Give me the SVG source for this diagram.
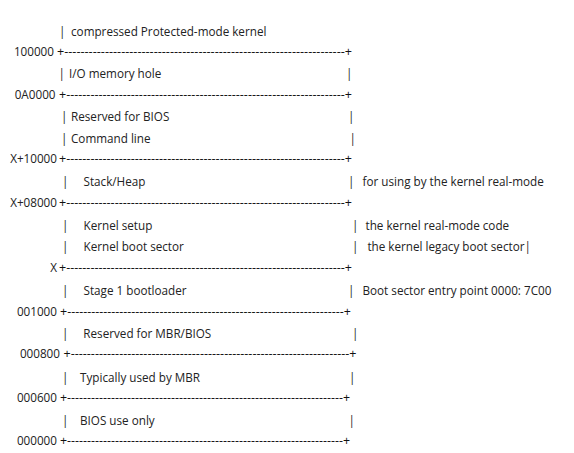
<svg xmlns="http://www.w3.org/2000/svg" width="574" height="453" viewBox="0 0 574 453">
<style>
text{font-family:"Open Sans","Noto Sans","DejaVu Sans",sans-serif;font-size:11.7px;fill:#222}
.a{text-anchor:end}
#connectors text{fill:#111}
</style>
<rect width="574" height="453" fill="#fff"/>
<g id="connectors">
<text x="57" y="56" textLength="295" lengthAdjust="spacingAndGlyphs">+---------------------------------------------------------------------+</text>
<text x="59" y="99" textLength="293" lengthAdjust="spacingAndGlyphs">+---------------------------------------------------------------------+</text>
<text x="59" y="163" textLength="293" lengthAdjust="spacingAndGlyphs">+---------------------------------------------------------------------+</text>
<text x="59" y="207" textLength="293" lengthAdjust="spacingAndGlyphs">+---------------------------------------------------------------------+</text>
<text x="59" y="272" textLength="293" lengthAdjust="spacingAndGlyphs">+---------------------------------------------------------------------+</text>
<text x="60" y="316" textLength="291" lengthAdjust="spacingAndGlyphs">+---------------------------------------------------------------------+</text>
<text x="63.5" y="358" textLength="293" lengthAdjust="spacingAndGlyphs">+---------------------------------------------------------------------+</text>
<text x="60" y="402" textLength="290" lengthAdjust="spacingAndGlyphs">+---------------------------------------------------------------------+</text>
<text x="60" y="445" textLength="290" lengthAdjust="spacingAndGlyphs">+---------------------------------------------------------------------+</text>
</g>
<g id="addresses">
<text class="a" x="54" y="56">100000</text>
<text class="a" x="55.5" y="99">0A0000</text>
<text class="a" x="57" y="163">X+10000</text>
<text class="a" x="57" y="207">X+08000</text>
<text class="a" x="57" y="272">X</text>
<text class="a" x="57" y="316">001000</text>
<text class="a" x="60" y="358">000800</text>
<text class="a" x="57" y="402">000600</text>
<text class="a" x="57" y="445">000000</text>
</g>
<g id="protected-kernel">
<text x="59" y="35.5">|</text>
<text x="71" y="35.5">compressed Protected-mode kernel</text>
</g>
<g id="io-hole">
<text x="58.5" y="78">|</text>
<text x="69" y="78">I/O memory hole</text>
<text x="346" y="78">|</text>
</g>
<g id="reserved-bios">
<text x="61" y="121">|</text>
<text x="71" y="121">Reserved for BIOS</text>
<text x="348" y="121">|</text>
</g>
<g id="command-line">
<text x="61" y="142.5">|</text>
<text x="71" y="142.5">Command line</text>
<text x="349.5" y="142.5">|</text>
</g>
<g id="stack-heap">
<text x="62" y="185.5">|</text>
<text x="83.5" y="185.5">Stack/Heap</text>
<text x="348" y="185.5">|</text>
<text x="362.5" y="185.5">for using by the kernel real-mode</text>
</g>
<g id="kernel-setup">
<text x="62" y="229.5">|</text>
<text x="83.5" y="229.5">Kernel setup</text>
<text x="352" y="229.5">|</text>
<text x="365.5" y="229.5">the kernel real-mode code</text>
</g>
<g id="kernel-boot-sector">
<text x="62" y="250.5">|</text>
<text x="83.5" y="250.5">Kernel boot sector</text>
<text x="352" y="250.5">|</text>
<text x="367.4" y="250.5">the kernel legacy boot sector|</text>
</g>
<g id="stage1">
<text x="62" y="294.5">|</text>
<text x="83.5" y="294.5">Stage 1 bootloader</text>
<text x="348" y="294.5">|</text>
<text x="362.5" y="294.5">Boot sector entry point 0000: 7C00</text>
</g>
<g id="reserved-mbr-bios">
<text x="62" y="337.5">|</text>
<text x="83.3" y="337.5">Reserved for MBR/BIOS</text>
<text x="352" y="337.5">|</text>
</g>
<g id="mbr">
<text x="62" y="381.5">|</text>
<text x="80" y="381.5">Typically used by MBR</text>
<text x="349" y="381.5">|</text>
</g>
<g id="bios-only">
<text x="62" y="424.5">|</text>
<text x="80" y="424.5">BIOS use only</text>
<text x="348.5" y="424.5">|</text>
</g>
</svg>
